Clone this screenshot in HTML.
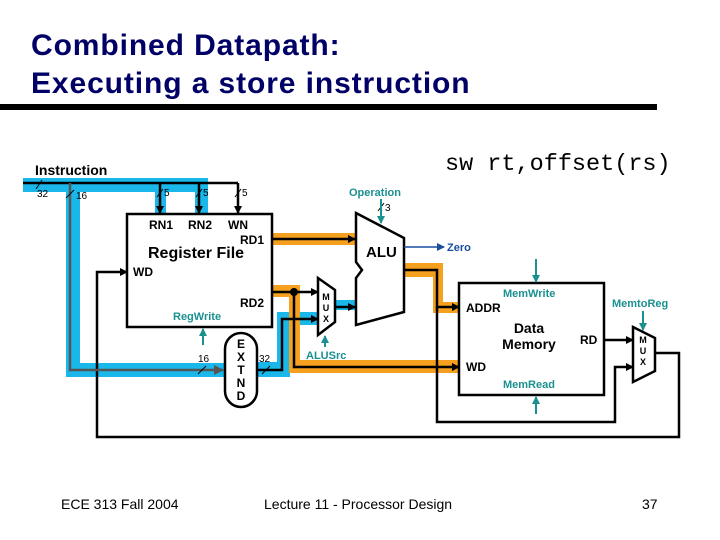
<!DOCTYPE html>
<html><head><style>
body{margin:0;background:#fff;}
svg{display:block;}
.t{font-family:"Liberation Sans",Arial,sans-serif;}
.b{font-family:"Liberation Sans",Arial,sans-serif;font-weight:bold;}
</style></head><body>
<svg width="720" height="540" viewBox="0 0 720 540" xmlns="http://www.w3.org/2000/svg">
<defs>
<marker id="a" markerWidth="8" markerHeight="8" refX="7" refY="4" orient="auto" markerUnits="userSpaceOnUse"><path d="M0,0L8,4L0,8z" fill="#000"/></marker>
<marker id="at" markerWidth="8" markerHeight="8" refX="7" refY="4" orient="auto" markerUnits="userSpaceOnUse"><path d="M0,0L8,4L0,8z" fill="#1a9090"/></marker>
<marker id="ab" markerWidth="8" markerHeight="8" refX="7" refY="4" orient="auto" markerUnits="userSpaceOnUse"><path d="M0,0L8,4L0,8z" fill="#1a4fa0"/></marker>
<marker id="ag" markerWidth="10" markerHeight="10" refX="9" refY="5" orient="auto" markerUnits="userSpaceOnUse"><path d="M0,0L10,5L0,10z" fill="#555"/></marker>
</defs>
<text x="31" y="55" class="b" font-size="30" letter-spacing="0.9" fill="#000066">Combined Datapath:</text>
<text x="31" y="93" class="b" font-size="30" letter-spacing="0.9" fill="#000066">Executing a store instruction</text>
<rect x="0" y="104" width="657" height="6" fill="#000"/>
<text x="445" y="170" font-family="Liberation Mono,monospace" font-size="23.5">sw rt,offset(rs)</text>
<text x="35" y="175" class="b" font-size="14">Instruction</text>

<g fill="#1ab8ea">
<rect x="23" y="178" width="185" height="14"/>
<rect x="66" y="178" width="14" height="199"/>
<rect x="66" y="363" width="159" height="14"/>
<rect x="155" y="178" width="11" height="36"/>
<rect x="195" y="178" width="13" height="36"/>
<rect x="257" y="362" width="33" height="15"/>
<rect x="277" y="312" width="13" height="65"/>
<rect x="277" y="312" width="41" height="13"/>
<rect x="335" y="300" width="20" height="10"/>
</g>
<g fill="#f5a01e">
<rect x="272" y="233" width="83" height="12"/>
<rect x="272" y="285" width="28" height="12"/>
<rect x="289" y="285" width="11" height="88"/>
<rect x="289" y="360" width="170" height="13"/>
<rect x="404" y="263" width="39" height="14"/>
<rect x="433" y="263" width="10" height="50"/>
<rect x="433" y="302" width="26" height="11"/>
</g>

<g stroke="#000" stroke-width="2.5" fill="none">
<line x1="23" y1="183" x2="238" y2="183"/>
<line x1="160" y1="183" x2="160" y2="213" marker-end="url(#a)"/>
<line x1="199" y1="183" x2="199" y2="213" marker-end="url(#a)"/>
<line x1="238" y1="183" x2="238" y2="213" marker-end="url(#a)"/>
<line x1="272" y1="239" x2="355" y2="239" marker-end="url(#a)"/>
<line x1="272" y1="292" x2="318" y2="292" marker-end="url(#a)"/>
<polyline points="294,292 294,367 459,367" marker-end="url(#a)"/>
<polyline points="257,370 282,370 282,319 318,319" marker-end="url(#a)"/>
<line x1="335" y1="307" x2="355" y2="307" marker-end="url(#a)"/>
<polyline points="404,270 437,270 437,307 459,307" marker-end="url(#a)"/>
<polyline points="437,307 437,422 615,422 615,367 633,367" marker-end="url(#a)"/>
<line x1="604" y1="340" x2="633" y2="340" marker-end="url(#a)"/>
<polyline points="655,353 679,353 679,437 97,437 97,272 127,272" marker-end="url(#a)"/>
</g>
<circle cx="294" cy="292" r="4" fill="#000"/>
<polyline points="70,183 70,370 223,370" stroke="#555" stroke-width="2.5" fill="none" marker-end="url(#ag)"/>
<g stroke="#000" stroke-width="1">
<line x1="36" y1="189" x2="42" y2="180"/><line x1="66" y1="198" x2="74" y2="190"/>
<line x1="157" y1="197" x2="163" y2="189"/><line x1="196" y1="197" x2="202" y2="189"/><line x1="235" y1="197" x2="241" y2="189"/>
<line x1="198" y1="374" x2="206" y2="366"/><line x1="262" y1="374" x2="270" y2="366"/>
<line x1="378" y1="211" x2="384" y2="203"/>
</g>
<g class="t" font-size="10">
<text x="37" y="197">32</text><text x="76" y="199">16</text>
<text x="164" y="196">5</text><text x="203" y="196">5</text><text x="242" y="196">5</text>
<text x="198" y="362">16</text><text x="259" y="362">32</text><text x="385" y="211">3</text>
</g>

<rect x="127" y="214" width="145" height="113" fill="#fff" stroke="#000" stroke-width="2.5"/>
<g class="b" font-size="12">
<text x="149" y="229">RN1</text><text x="188" y="229">RN2</text><text x="228" y="229">WN</text>
<text x="240" y="244">RD1</text><text x="240" y="307">RD2</text><text x="133" y="276">WD</text>
</g>
<text x="148" y="258" class="b" font-size="16">Register File</text>
<text x="173" y="320" class="b" font-size="11" fill="#1a9090">RegWrite</text>

<rect x="225" y="333" width="32" height="74" rx="16" fill="#fff" stroke="#000" stroke-width="2.5"/>
<g class="b" font-size="12" text-anchor="middle"><text x="241" y="348">E</text><text x="241" y="361">X</text><text x="241" y="374">T</text><text x="241" y="387">N</text><text x="241" y="400">D</text></g>

<polygon points="318,278 335,290 335,322 318,335" fill="#fff" stroke="#000" stroke-width="2.5"/>
<g class="b" font-size="9" text-anchor="middle"><text x="326" y="300">M</text><text x="326" y="311">U</text><text x="326" y="322">X</text></g>
<text x="306" y="359" class="b" font-size="11" fill="#1a9090">ALUSrc</text>
<line x1="325" y1="347" x2="325" y2="336" stroke="#1a9090" stroke-width="2" marker-end="url(#at)"/>
<line x1="203" y1="345" x2="203" y2="329" stroke="#1a9090" stroke-width="2" marker-end="url(#at)"/>

<polygon points="356,213 404,238 404,312 356,325 356,278 362,270 356,262" fill="#fff" stroke="#000" stroke-width="2.5"/>
<text x="366" y="257" class="b" font-size="15">ALU</text>
<text x="349" y="196" class="b" font-size="11" fill="#1a9090">Operation</text>
<line x1="381" y1="199" x2="381" y2="223" stroke="#1a9090" stroke-width="2" marker-end="url(#at)"/>
<line x1="404" y1="247" x2="444" y2="247" stroke="#1a4fa0" stroke-width="1.5" marker-end="url(#ab)"/>
<text x="447" y="251" class="b" font-size="11" fill="#1a4fa0">Zero</text>

<rect x="459" y="283" width="145" height="112" fill="#fff" stroke="#000" stroke-width="2.5"/>
<g class="b" font-size="12"><text x="466" y="312">ADDR</text><text x="466" y="371">WD</text><text x="580" y="344">RD</text></g>
<text x="529" y="333" class="b" font-size="14" text-anchor="middle">Data</text>
<text x="529" y="349" class="b" font-size="14" text-anchor="middle">Memory</text>
<text x="503" y="297" class="b" font-size="11" fill="#1a9090">MemWrite</text>
<text x="503" y="388" class="b" font-size="11" fill="#1a9090">MemRead</text>
<line x1="536" y1="259" x2="536" y2="282" stroke="#1a9090" stroke-width="2" marker-end="url(#at)"/>
<line x1="536" y1="414" x2="536" y2="397" stroke="#1a9090" stroke-width="2" marker-end="url(#at)"/>
<text x="612" y="307" class="b" font-size="11" fill="#1a9090">MemtoReg</text>
<line x1="643" y1="311" x2="643" y2="330" stroke="#1a9090" stroke-width="2" marker-end="url(#at)"/>
<polygon points="633,327 655,338 655,371 633,382" fill="#fff" stroke="#000" stroke-width="2.5"/>
<g class="b" font-size="9" text-anchor="middle"><text x="643" y="343">M</text><text x="643" y="354">U</text><text x="643" y="365">X</text></g>

<g class="t" font-size="14">
<text x="61" y="509">ECE 313 Fall 2004</text>
<text x="264" y="509">Lecture 11 - Processor Design</text>
<text x="642" y="509">37</text>
</g>
</svg>
</body></html>
